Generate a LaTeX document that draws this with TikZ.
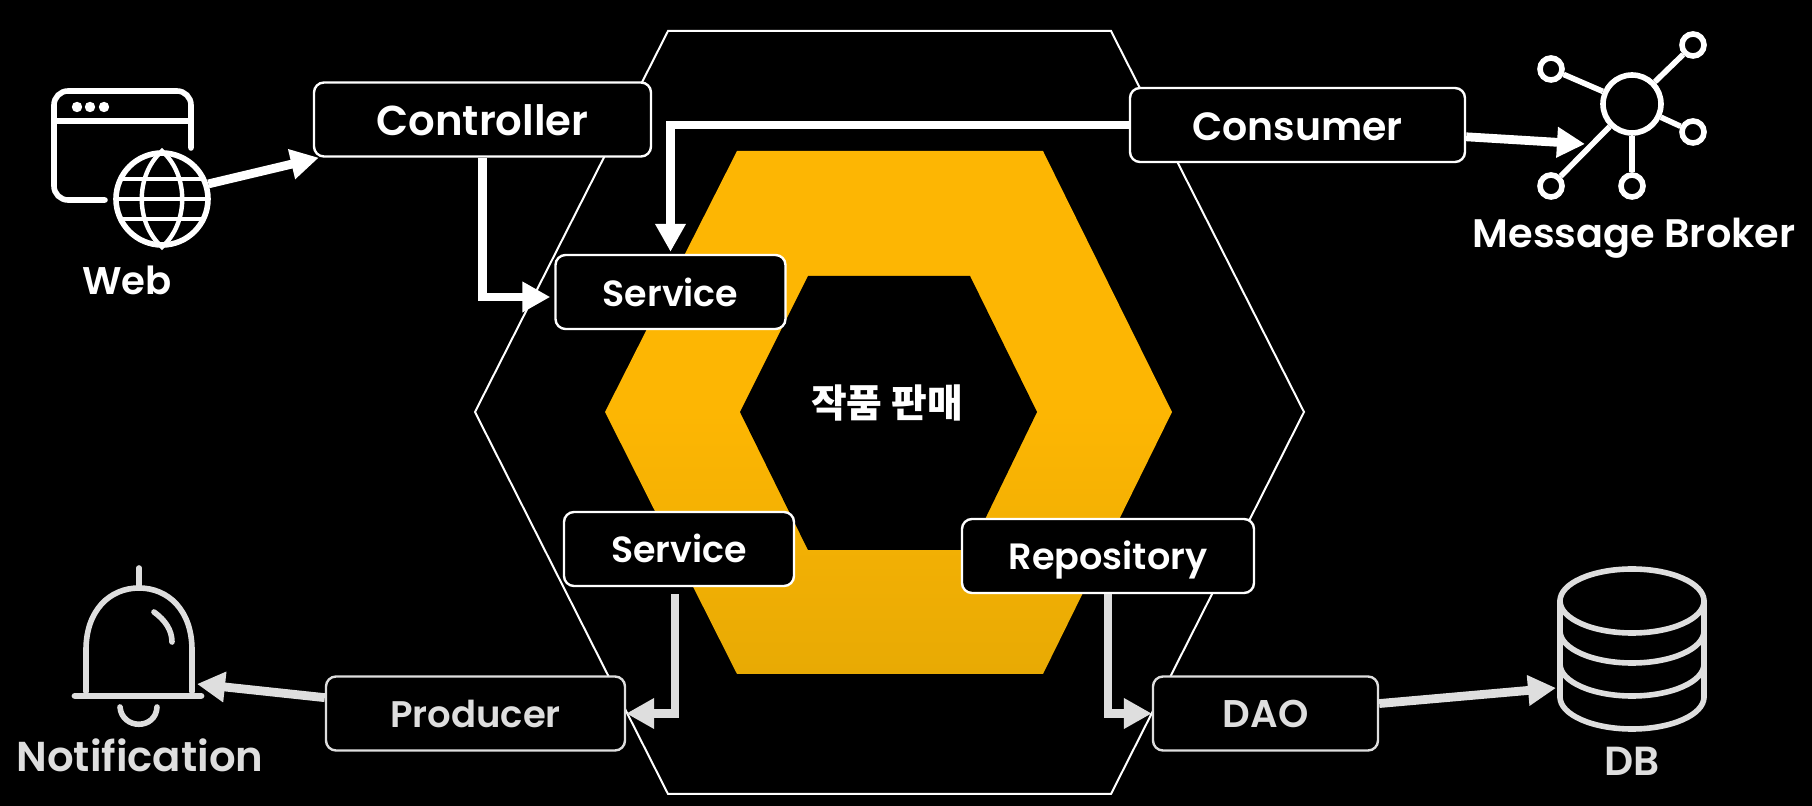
\documentclass[tikz,border=0pt]{standalone}
\usepackage{fontspec}
\setmainfont{Poppins SemiBold}
\newfontfamily\krfont{Noto Sans CJK KR}
\usetikzlibrary{arrows.meta,shapes.geometric}
\definecolor{hexyellow}{HTML}{FDB603}
\definecolor{hexdark}{HTML}{E8AA04}
\colorlet{fade}{white!87!black}
\tikzset{
  box/.style={draw=white, line width=1.2pt, fill=black, text=white, rounded corners=5pt,
    minimum height=37pt, inner sep=0pt, text height=14pt, text depth=0pt},
  icon/.style={draw=white, line width=2.8pt, line cap=round},
  flow/.style={line width=4.4pt, color=white, -{Triangle[length=14pt,width=14.5pt]}},
}
\begin{document}
\begin{tikzpicture}[x=.5pt, y=-.5pt]
  \fill[black] (0,0) rectangle (1812,806);
  % hexagons
  \draw[white, line width=1pt] (668,31) -- (1111,31) -- (1304,412) -- (1111,794) -- (668,794) -- (475,412) -- cycle;
  \shade[top color=hexyellow, bottom color=hexdark, middle color=hexyellow]
    (737,151) -- (1043,151) -- (1172,412) -- (1043,674) -- (737,674) -- (605,412) -- cycle;
  \fill[black] (808,276) -- (970,276) -- (1037,412) -- (970,550) -- (808,550) -- (740,412) -- cycle;
  \node[text=white, font=\krfont\bfseries\fontsize{19.4}{19.4}\selectfont] (core) at (887,403) {작품 판매};
  % boxes
  \foreach \bname/\cx/\cy/\w/\fs/\th/\btext in {controller/482.5/119.5/337/20.9/16/Controller,
    consumer/1297.5/125/335/19.7/16/Consumer, servicea/670.5/292/230/18.2/15/Service,
    serviceb/679/549/230/18.2/14/Service, repository/1108/556/292/18.3/14/Repository} {
    \node[box, font=\fontsize{\fs}{\fs}\selectfont, text height=\th pt, minimum width=\w*.5pt] (\bname) at (\cx,\cy) {\btext};
  }
  \foreach \bname/\cx/\w/\fs/\btext in {producer/475.5/299/18.5/Producer, dao/1265.5/225/19.3/DAO} {
    \node[box, font=\fontsize{\fs}{\fs}\selectfont, draw=fade, text=fade, minimum width=\w*.5pt] (\bname) at (\cx,713.5) {\btext};
  }
  % web
  \draw[icon, rounded corners=7pt] (105,200) -- (54,200) -- (54,91) -- (191,91) -- (191,148);
  \draw[icon] (54,121) -- (191,121);
  \foreach \dx in {77,90,104} {
    \fill[white] (\dx,107) circle (2.6pt);
  }
  \node[icon, circle, minimum size=46pt, inner sep=0pt] (globe) at (162,199) {};
  \draw[icon, line width=2.2pt] (162,151) .. controls (135,175) and (135,223) .. (162,247)
    .. controls (189,223) and (189,175) .. cycle;
  \foreach \gy/\hw in {-20/43, 0/47, 20/43} {
    \draw[icon, line width=2.2pt, line cap=butt] (162-\hw,199+\gy) -- (162+\hw,199+\gy);
  }
  \node[text=white, font=\fontsize{19.3}{19.3}\selectfont] (web) at (127,280) {Web};
  % message broker
  \node[icon, circle, minimum size=29pt, inner sep=0pt] (hub) at (1632,104) {};
  \foreach \sname/\sx/\sy in {sa/1693/45, sb/1551/69, sc/1693/132, sd/1551/186, se/1632/186} {
    \node[icon, circle, minimum size=11pt, inner sep=0pt] (\sname) at (\sx,\sy) {};
    \draw[icon, line cap=butt] (hub) -- (\sname);
  }
  \node[text=white, font=\fontsize{19.9}{19.9}\selectfont] (broker) at (1634,238) {Message Broker};
  \coordinate (brokertip) at (1585,144);
  % notification
  \draw[icon, draw=fade] (86,692) -- (86,650) .. controls (86,610) and (110,588) .. (139,588)
    .. controls (168,588) and (192,610) .. (192,650) -- (192,692);
  \draw[icon, draw=fade] (139,568) -- (139,588);
  \draw[icon, draw=fade, line width=3.4pt] (75,696) -- (201,696);
  \draw[icon, draw=fade] (120,707) .. controls (122,730) and (156,730) .. (157,707);
  \draw[icon, draw=fade] (154,612) .. controls (165,620) and (172,630) .. (172,642);
  \node[text=fade, font=\fontsize{20.9}{20.9}\selectfont] (notification) at (140,755) {Notification};
  \coordinate (belltip) at (197,684);
  % db
  \draw[icon, draw=fade] (1632,601) ellipse [x radius=72, y radius=32];
  \draw[icon, draw=fade] (1560,601) -- (1560,697) (1704,601) -- (1704,697);
  \foreach \dy in {631,664,697} {
    \draw[icon, draw=fade] (1560,\dy) arc [start angle=180, end angle=0, x radius=72, y radius=32];
  }
  \node[text=fade, font=\fontsize{20.3}{20.3}\selectfont] (db) at (1632,761) {DB};
  \coordinate (dbtip) at (1556,688);
  % arrows
  \draw[flow] (globe.18) -- ([xshift=3pt]controller.south west);
  \draw[flow, shorten >=2pt] (controller.south) |- ([yshift=-2.5pt]servicea.west);
  \draw[flow, shorten >=1pt] (consumer.west) -| (servicea.north);
  \draw[flow] (consumer.-4) -- (brokertip);
  \draw[flow, fade, shorten <=3.5pt] ([xshift=-2pt]serviceb.south) |- (producer.east);
  \draw[flow, fade] (repository.south) |- (dao.west);
  \draw[flow, fade] (producer.174) -- (belltip);
  \draw[flow, fade] (dao.5) -- (dbtip);
\end{tikzpicture}
\end{document}
